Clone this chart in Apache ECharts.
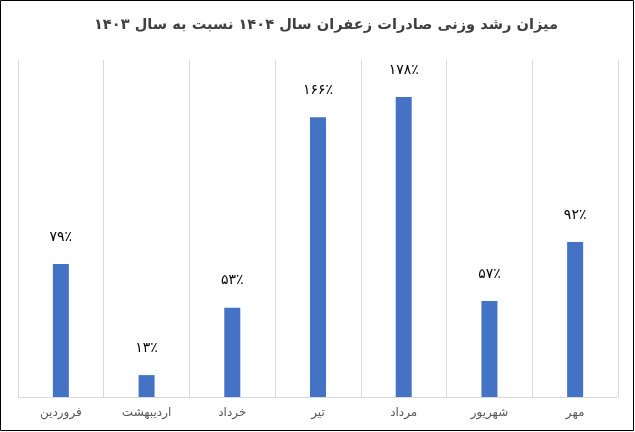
<!DOCTYPE html>
<html><head><meta charset="utf-8">
<script src="https://cdn.jsdelivr.net/npm/echarts@6/dist/echarts.min.js"></script>
<style>html,body{margin:0;padding:0;background:#fff}#c{width:635px;height:432px}</style>
</head><body><div id="c"></div>
<script>
const categories = ['فروردین','اردیبهشت','خرداد','تیر','مرداد','شهریور','مهر'];
const values = [79, 13, 53, 166, 178, 57, 92];
const valueLabels = ['۷۹٪','۱۳٪','۵۳٪','۱۶۶٪','۱۷۸٪','۵۷٪','۹۲٪'];
const titleText = 'میزان رشد وزنی صادرات زعفران سال ۱۴۰۴ نسبت به سال ۱۴۰۳';

const chart = echarts.init(document.getElementById('c'));
chart.setOption({
  animation: false,
  grid: {left: 18, right: 17, top: 60, bottom: 35},
  graphic: [
    {type: 'rect', shape: {x: 0.5, y: 0.5, width: 633, height: 430}, style: {fill: 'none', stroke: '#000', lineWidth: 1}},
    {type: 'text', x: 326, y: 25, style: {text: titleText, font: 'bold 14.6px "DejaVu Sans"', fill: '#404040', align: 'center', verticalAlign: 'middle'}}
  ],
  xAxis: {
    type: 'category', data: categories,
    axisLine: {lineStyle: {color: '#d9d9d9'}},
    axisTick: {show: false},
    splitLine: {show: true, lineStyle: {color: '#d9d9d9'}},
    axisLabel: {color: '#595959', fontSize: 12, fontFamily: 'DejaVu Sans', margin: 10}
  },
  yAxis: {type: 'value', min: 0, max: 200, show: false, splitLine: {show: false}},
  series: [{
    type: 'bar', data: values, barWidth: 16,
    itemStyle: {color: '#4472c4'},
    label: {show: true, position: 'top', distance: 20, color: '#000', fontSize: 14, fontFamily: 'DejaVu Sans',
      formatter: p => valueLabels[p.dataIndex]}
  }]
});
</script></body></html>
